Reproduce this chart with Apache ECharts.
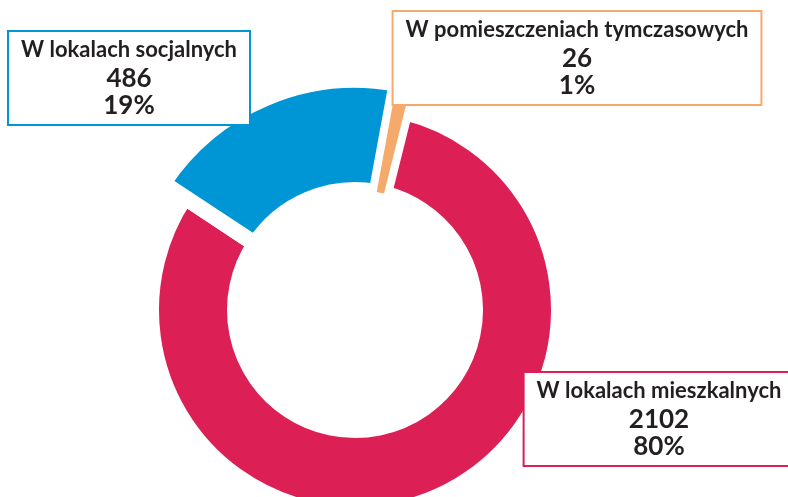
<!DOCTYPE html>
<html lang="pl">
<head>
<meta charset="UTF-8">
<title>Lokale</title>
<script src="https://cdn.jsdelivr.net/npm/echarts@6.0.0/dist/echarts.min.js"></script>
<style>
  html, body { margin: 0; padding: 0; background: #fff; }
  #chart { width: 788px; height: 497px; }
</style>
</head>
<body>
<div id="chart"></div>
<script>
// dane
const categories = ['W lokalach mieszkalnych', 'W lokalach socjalnych', 'W pomieszczeniach tymczasowych'];
const counts = [2102, 486, 26];

// wygląd
const colors = ['#dc1f55', '#0096d6', '#f5aa6b'];
const labelPos = [[659, 419], [129, 78], [577, 58]];
const gap = 16;

const chart = echarts.init(document.getElementById('chart'));

// seria dolna: tylko czerwony pierścień
const baseData = categories.map((name, i) => ({
    name: name,
    value: counts[i],
    itemStyle: i === 0
        ? { color: colors[i], borderColor: '#fff', borderWidth: gap }
        : { color: 'rgba(0,0,0,0)', borderWidth: 0 }
}));

// seria górna: niebieski (większy promień), pomarańczowy i wszystkie etykiety
const topData = categories.map((name, i) => ({
    name: name,
    value: counts[i],
    itemStyle: i === 0
        ? { color: 'rgba(0,0,0,0)', borderWidth: 0 }
        : { color: colors[i], borderColor: '#fff', borderWidth: i === 1 ? gap : 0 },
    label: { borderColor: colors[i] }
}));

chart.setOption({
    animation: false,
    series: [
        {
            type: 'pie',
            z: 2,
            silent: true,
            center: [355, 310],
            radius: [120, 204],
            startAngle: 76,
            percentPrecision: 0,
            label: { show: false },
            labelLine: { show: false },
            data: baseData
        },
        {
            type: 'pie',
            z: 3,
            silent: true,
            center: [355, 310],
            radius: [120, 230],
            startAngle: 76,
            percentPrecision: 0,
            avoidLabelOverlap: false,
            labelLine: { show: false },
            label: {
                show: true,
                position: 'outside',
                formatter: '{n|{b}}\n{v|{c}}\n{v|{d}%}',
                backgroundColor: '#fff',
                borderWidth: 2,
                padding: [3, 12, 5, 12],
                rich: {
                    n: { fontFamily: 'Lato', fontSize: 22, fontWeight: 'bold', lineHeight: 30, color: '#231f20', align: 'center' },
                    v: { fontFamily: 'Lato', fontSize: 26, fontWeight: 'bold', lineHeight: 27, color: '#231f20', align: 'center' }
                }
            },
            labelLayout: function (params) {
                const p = labelPos[params.dataIndex];
                return { x: p[0], y: p[1], align: 'center', verticalAlign: 'middle' };
            },
            data: topData
        }
    ]
});
</script>
</body>
</html>
